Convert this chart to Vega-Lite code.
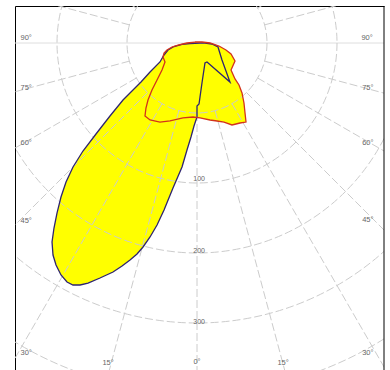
{
  "$schema": "https://vega.github.io/schema/vega-lite/v6.json",
  "width": 369,
  "height": 364,
  "padding": {"left": 15, "top": 6, "right": 6, "bottom": 0},
  "autosize": {"type": "none"},
  "background": "white",
  "config": {"view": {"stroke": null}},
  "datasets": {
    "rings": [{"r": 100}, {"r": 200}, {"r": 300}, {"r": 400}, {"r": 500}],
    "rays": [
      {"x1": 0, "y1": -100, "x2": 0, "y2": -700}, {"x1": 25.9, "y1": -96.6, "x2": 181.2, "y2": -676.1}, {"x1": 50, "y1": -86.6, "x2": 350, "y2": -606.2}, {"x1": 70.7, "y1": -70.7, "x2": 495, "y2": -495},
      {"x1": 86.6, "y1": -50, "x2": 606.2, "y2": -350}, {"x1": 96.6, "y1": -25.9, "x2": 676.1, "y2": -181.2}, {"x1": 96.6, "y1": 25.9, "x2": 676.1, "y2": 181.2},
      {"x1": 86.6, "y1": 50, "x2": 606.2, "y2": 350}, {"x1": 70.7, "y1": 70.7, "x2": 495, "y2": 495}, {"x1": 50, "y1": 86.6, "x2": 350, "y2": 606.2}, {"x1": 25.9, "y1": 96.6, "x2": 181.2, "y2": 676.1},
      {"x1": 0, "y1": 100, "x2": 0, "y2": 700}, {"x1": -25.9, "y1": -96.6, "x2": -181.2, "y2": -676.1}, {"x1": -50, "y1": -86.6, "x2": -350, "y2": -606.2}, {"x1": -70.7, "y1": -70.7, "x2": -495, "y2": -495},
      {"x1": -86.6, "y1": -50, "x2": -606.2, "y2": -350}, {"x1": -96.6, "y1": -25.9, "x2": -676.1, "y2": -181.2}, {"x1": -96.6, "y1": 25.9, "x2": -676.1, "y2": 181.2},
      {"x1": -86.6, "y1": 50, "x2": -606.2, "y2": 350}, {"x1": -70.7, "y1": 70.7, "x2": -495, "y2": 495}, {"x1": -50, "y1": 86.6, "x2": -350, "y2": 606.2}, {"x1": -25.9, "y1": 96.6, "x2": -181.2, "y2": 676.1}
    ],
    "horizon": [{"level": 0}],
    "curves": [
      {"curve": "C0", "i": 0, "x": 4.3, "y": 0},
      {"curve": "C0", "i": 1, "x": -10, "y": -0.7},
      {"curve": "C0", "i": 2, "x": -21.4, "y": -2.1},
      {"curve": "C0", "i": 3, "x": -32.9, "y": -5},
      {"curve": "C0", "i": 4, "x": -41.4, "y": -10},
      {"curve": "C0", "i": 5, "x": -47.1, "y": -17.1},
      {"curve": "C0", "i": 6, "x": -52.9, "y": -27.1},
      {"curve": "C0", "i": 7, "x": -67.1, "y": -41.4},
      {"curve": "C0", "i": 8, "x": -80, "y": -55.7},
      {"curve": "C0", "i": 9, "x": -92.9, "y": -68.6},
      {"curve": "C0", "i": 10, "x": -105.7, "y": -81.4},
      {"curve": "C0", "i": 11, "x": -124.3, "y": -104.3},
      {"curve": "C0", "i": 12, "x": -144.3, "y": -130},
      {"curve": "C0", "i": 13, "x": -162.9, "y": -154.3},
      {"curve": "C0", "i": 14, "x": -177.1, "y": -177.1},
      {"curve": "C0", "i": 15, "x": -187.1, "y": -198.6},
      {"curve": "C0", "i": 16, "x": -194.3, "y": -220},
      {"curve": "C0", "i": 17, "x": -200, "y": -242.9},
      {"curve": "C0", "i": 18, "x": -204.3, "y": -264.3},
      {"curve": "C0", "i": 19, "x": -207.1, "y": -284.3},
      {"curve": "C0", "i": 20, "x": -205.7, "y": -302.9},
      {"curve": "C0", "i": 21, "x": -201.4, "y": -317.1},
      {"curve": "C0", "i": 22, "x": -194.3, "y": -331.4},
      {"curve": "C0", "i": 23, "x": -185.7, "y": -341.4},
      {"curve": "C0", "i": 24, "x": -177.1, "y": -345.7},
      {"curve": "C0", "i": 25, "x": -167.1, "y": -345.7},
      {"curve": "C0", "i": 26, "x": -155.7, "y": -342.9},
      {"curve": "C0", "i": 27, "x": -138.6, "y": -335.7},
      {"curve": "C0", "i": 28, "x": -120, "y": -327.1},
      {"curve": "C0", "i": 29, "x": -107.1, "y": -318.6},
      {"curve": "C0", "i": 30, "x": -95.7, "y": -310},
      {"curve": "C0", "i": 31, "x": -85.7, "y": -301.4},
      {"curve": "C0", "i": 32, "x": -77.1, "y": -291.4},
      {"curve": "C0", "i": 33, "x": -67.1, "y": -277.1},
      {"curve": "C0", "i": 34, "x": -57.1, "y": -260},
      {"curve": "C0", "i": 35, "x": -47.1, "y": -238.6},
      {"curve": "C0", "i": 36, "x": -34.3, "y": -207.1},
      {"curve": "C0", "i": 37, "x": -21.4, "y": -177.1},
      {"curve": "C0", "i": 38, "x": -14.3, "y": -152.9},
      {"curve": "C0", "i": 39, "x": -8.6, "y": -134.3},
      {"curve": "C0", "i": 40, "x": -4.3, "y": -118.6},
      {"curve": "C0", "i": 41, "x": 0, "y": -105.7},
      {"curve": "C0", "i": 42, "x": 0, "y": -90},
      {"curve": "C0", "i": 43, "x": 2.9, "y": -87.1},
      {"curve": "C0", "i": 44, "x": 4.3, "y": -77.1},
      {"curve": "C0", "i": 45, "x": 7.1, "y": -57.1},
      {"curve": "C0", "i": 46, "x": 11.4, "y": -28.6},
      {"curve": "C0", "i": 47, "x": 14.3, "y": -27.1},
      {"curve": "C0", "i": 48, "x": 47.1, "y": -55.7},
      {"curve": "C0", "i": 49, "x": 35.7, "y": -24.3},
      {"curve": "C0", "i": 50, "x": 30, "y": -5.7},
      {"curve": "C0", "i": 51, "x": 21.4, "y": -1.4},
      {"curve": "C0", "i": 52, "x": 11.4, "y": 0},
      {"curve": "C0", "i": 53, "x": 4.3, "y": 0},
      {"curve": "C90", "i": 0, "x": -2.9, "y": 1.4},
      {"curve": "C90", "i": 1, "x": -14.3, "y": 0},
      {"curve": "C90", "i": 2, "x": -27.1, "y": -2.9},
      {"curve": "C90", "i": 3, "x": -35.7, "y": -5.7},
      {"curve": "C90", "i": 4, "x": -42.9, "y": -10},
      {"curve": "C90", "i": 5, "x": -47.1, "y": -14.3},
      {"curve": "C90", "i": 6, "x": -48.6, "y": -20},
      {"curve": "C90", "i": 7, "x": -45.7, "y": -27.1},
      {"curve": "C90", "i": 8, "x": -50, "y": -38.6},
      {"curve": "C90", "i": 9, "x": -57.1, "y": -52.9},
      {"curve": "C90", "i": 10, "x": -64.3, "y": -67.1},
      {"curve": "C90", "i": 11, "x": -70, "y": -81.4},
      {"curve": "C90", "i": 12, "x": -72.9, "y": -92.9},
      {"curve": "C90", "i": 13, "x": -74.3, "y": -104.3},
      {"curve": "C90", "i": 14, "x": -67.1, "y": -110},
      {"curve": "C90", "i": 15, "x": -52.9, "y": -112.9},
      {"curve": "C90", "i": 16, "x": -38.6, "y": -111.4},
      {"curve": "C90", "i": 17, "x": -20, "y": -107.1},
      {"curve": "C90", "i": 18, "x": -5.7, "y": -105.7},
      {"curve": "C90", "i": 19, "x": 4.3, "y": -107.1},
      {"curve": "C90", "i": 20, "x": 18.6, "y": -110},
      {"curve": "C90", "i": 21, "x": 28.6, "y": -111.4},
      {"curve": "C90", "i": 22, "x": 38.6, "y": -112.9},
      {"curve": "C90", "i": 23, "x": 50, "y": -117.1},
      {"curve": "C90", "i": 24, "x": 61.4, "y": -114.3},
      {"curve": "C90", "i": 25, "x": 70, "y": -112.9},
      {"curve": "C90", "i": 26, "x": 68.6, "y": -100},
      {"curve": "C90", "i": 27, "x": 67.1, "y": -85.7},
      {"curve": "C90", "i": 28, "x": 64.3, "y": -71.4},
      {"curve": "C90", "i": 29, "x": 60, "y": -60},
      {"curve": "C90", "i": 30, "x": 54.3, "y": -51.4},
      {"curve": "C90", "i": 31, "x": 48.6, "y": -38.6},
      {"curve": "C90", "i": 32, "x": 54.3, "y": -25.7},
      {"curve": "C90", "i": 33, "x": 48.6, "y": -15.7},
      {"curve": "C90", "i": 34, "x": 41.4, "y": -10},
      {"curve": "C90", "i": 35, "x": 31.4, "y": -4.3},
      {"curve": "C90", "i": 36, "x": 18.6, "y": 0},
      {"curve": "C90", "i": 37, "x": 7.1, "y": 1.4},
      {"curve": "C90", "i": 38, "x": -2.9, "y": 1.4}
    ],
    "angleLabels": [
      {"t": "90°", "x": -244, "y": 7},
      {"t": "75°", "x": -244, "y": -64},
      {"t": "60°", "x": -244, "y": -143},
      {"t": "45°", "x": -244, "y": -254},
      {"t": "30°", "x": -244, "y": -443},
      {"t": "15°", "x": -127, "y": -457},
      {"t": "0°", "x": 0, "y": -456},
      {"t": "15°", "x": 123, "y": -457},
      {"t": "30°", "x": 244, "y": -443},
      {"t": "45°", "x": 244, "y": -253},
      {"t": "60°", "x": 244, "y": -143},
      {"t": "75°", "x": 244, "y": -64},
      {"t": "90°", "x": 243, "y": 7}
    ],
    "ringLabels": [
      {"t": "100", "x": 3, "y": -194},
      {"t": "200", "x": 3, "y": -297},
      {"t": "300", "x": 3, "y": -398}
    ],
    "frame": [{"edge": 267.14}]
  },
  "layer": [
    {
      "data": {"name": "curves"},
      "mark": {"type": "line", "fill": "#ffff00", "strokeWidth": 0, "clip": true},
      "encoding": {
        "x": {"field": "x", "type": "quantitative", "scale": {"domain": [-260, 267.14], "nice": false, "zero": false},
              "axis": {"orient": "top", "domainColor": "black", "domainWidth": 1, "ticks": false, "labels": false, "grid": false, "title": null}},
        "y": {"field": "y", "type": "quantitative", "scale": {"domain": [-467.14, 52.86], "nice": false, "zero": false},
              "axis": {"orient": "left", "domainColor": "black", "domainWidth": 1, "ticks": false, "labels": false, "grid": false, "title": null}},
        "detail": {"field": "curve", "type": "nominal"},
        "order": {"field": "i", "type": "quantitative"}
      }
    },
    {
      "data": {"name": "horizon"},
      "mark": {"type": "rule", "stroke": "#dedede", "strokeWidth": 1, "clip": true},
      "encoding": {"y": {"field": "level", "type": "quantitative"}}
    },
    {
      "data": {"name": "rings"},
      "mark": {"type": "point", "shape": "circle", "filled": false, "stroke": "#cccccc", "strokeWidth": 1, "strokeDash": [8, 3], "opacity": 1, "clip": true},
      "encoding": {
        "x": {"datum": 0, "type": "quantitative"},
        "y": {"datum": 0, "type": "quantitative"},
        "size": {"field": "r", "type": "quantitative", "scale": {"type": "pow", "exponent": 2, "domain": [0, 500], "range": [0, 490000]}, "legend": null}
      }
    },
    {
      "data": {"name": "rays"},
      "mark": {"type": "rule", "stroke": "#cccccc", "strokeWidth": 1, "strokeDash": [8, 3], "clip": true},
      "encoding": {
        "x": {"field": "x1", "type": "quantitative"},
        "y": {"field": "y1", "type": "quantitative"},
        "x2": {"field": "x2"},
        "y2": {"field": "y2"}
      }
    },
    {
      "data": {"name": "curves"},
      "mark": {"type": "line", "strokeWidth": 1.3, "clip": true},
      "encoding": {
        "x": {"field": "x", "type": "quantitative"},
        "y": {"field": "y", "type": "quantitative"},
        "color": {"field": "curve", "type": "nominal", "scale": {"domain": ["C0", "C90"], "range": ["#2e2470", "#d3321c"]}, "legend": null},
        "order": {"field": "i", "type": "quantitative"}
      }
    },
    {
      "data": {"name": "angleLabels"},
      "mark": {"type": "text", "fontSize": 7.5, "font": "Liberation Sans", "color": "#666666", "align": "center", "baseline": "middle"},
      "encoding": {
        "x": {"field": "x", "type": "quantitative"},
        "y": {"field": "y", "type": "quantitative"},
        "text": {"field": "t", "type": "nominal"}
      }
    },
    {
      "data": {"name": "ringLabels"},
      "mark": {"type": "text", "fontSize": 7, "font": "Liberation Sans", "color": "#666666", "align": "center", "baseline": "middle"},
      "encoding": {
        "x": {"field": "x", "type": "quantitative"},
        "y": {"field": "y", "type": "quantitative"},
        "text": {"field": "t", "type": "nominal"}
      }
    },
    {
      "data": {"name": "frame"},
      "mark": {"type": "rule", "color": "black", "strokeWidth": 1},
      "encoding": {"x": {"field": "edge", "type": "quantitative"}}
    }
  ]
}
